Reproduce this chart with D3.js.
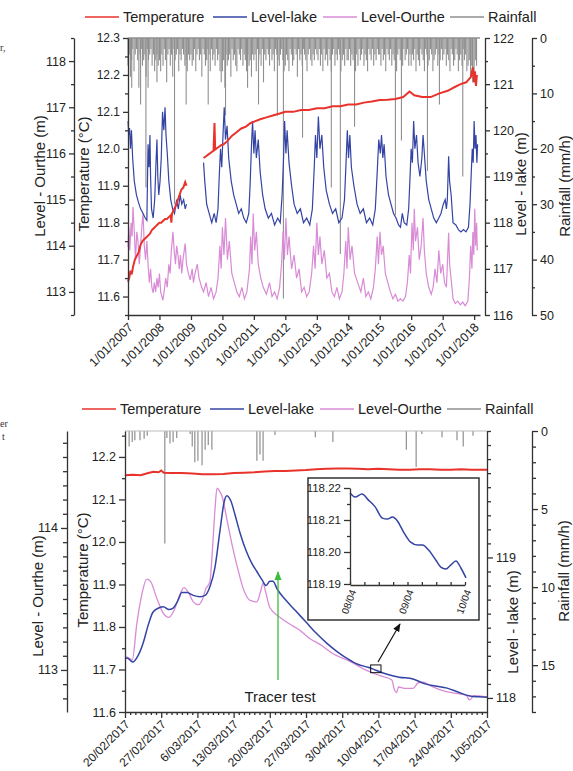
<!DOCTYPE html>
<html><head><meta charset="utf-8">
<script src="https://cdn.jsdelivr.net/npm/d3@7"></script>
<style>body{margin:0;background:#fff}svg text{font-family:"Liberation Sans",Arial,sans-serif}</style>
</head><body><svg id="c" width="573" height="771"></svg>
<script>
// ---------------- DATA (top chart, decimal years) ----------------
const legendItems = ["Temperature","Level-lake","Level-Ourthe","Rainfall"];
const topYears = [2007,2008,2009,2010,2011,2012,2013,2014,2015,2016,2017,2018];
const tempTopA = [[2007.00,11.64],[2007.04,11.65],[2007.08,11.67],[2007.12,11.66],[2007.16,11.68],[2007.22,11.70],[2007.28,11.71],[2007.34,11.72],[2007.40,11.74],[2007.46,11.75],[2007.52,11.755],[2007.58,11.76],[2007.64,11.765],[2007.70,11.77],[2007.76,11.78],[2007.82,11.785],[2007.88,11.79],[2007.94,11.795],[2008.00,11.80],[2008.06,11.80],[2008.12,11.805],[2008.18,11.81],[2008.24,11.81],[2008.30,11.815],[2008.36,11.82],[2008.38,11.80],[2008.40,11.825],[2008.46,11.835],[2008.52,11.845],[2008.58,11.86],[2008.64,11.875],[2008.70,11.89],[2008.76,11.895],[2008.82,11.91],[2008.86,11.90]];
const tempTopB = [[2009.40,11.975],[2009.48,11.98],[2009.56,11.985],[2009.64,11.99],[2009.72,11.995],[2009.75,12.07],[2009.77,11.998],[2009.88,12.005],[2009.96,12.01],[2010.04,12.012],[2010.15,12.02],[2010.30,12.035],[2010.45,12.045],[2010.60,12.055],[2010.75,12.06],[2010.90,12.07],[2011.05,12.075],[2011.20,12.08],[2011.40,12.085],[2011.60,12.09],[2011.80,12.095],[2012.00,12.10],[2012.25,12.10],[2012.50,12.105],[2012.75,12.105],[2013.00,12.11],[2013.25,12.11],[2013.50,12.115],[2013.75,12.115],[2014.00,12.12],[2014.25,12.12],[2014.50,12.125],[2014.75,12.128],[2015.00,12.132],[2015.25,12.133],[2015.50,12.135],[2015.75,12.14],[2015.95,12.155],[2016.10,12.145],[2016.35,12.14],[2016.62,12.14],[2016.90,12.15],[2017.16,12.157],[2017.40,12.168],[2017.57,12.175],[2017.75,12.18],[2017.90,12.195],[2017.96,12.22],[2018.00,12.18],[2018.03,12.21],[2018.06,12.17],[2018.09,12.20]];
const lakeTopA = [[2007.00,120.2],[2007.03,119.9],[2007.05,120.05],[2007.08,119.6],[2007.11,120.0],[2007.15,119.4],[2007.20,118.9],[2007.27,118.6],[2007.33,118.45],[2007.40,118.3],[2007.48,118.2],[2007.55,118.1],[2007.60,118.05],[2007.62,118.9],[2007.64,119.7],[2007.67,119.2],[2007.70,119.9],[2007.72,119.0],[2007.75,118.3],[2007.80,118.1],[2007.85,118.5],[2007.89,119.3],[2007.92,119.8],[2007.95,119.0],[2007.98,118.6],[2008.02,118.9],[2008.06,119.4],[2008.10,120.4],[2008.14,120.0],[2008.18,120.5],[2008.21,119.9],[2008.25,119.5],[2008.30,118.9],[2008.36,118.5],[2008.42,118.3],[2008.48,118.2],[2008.55,118.5],[2008.60,118.3],[2008.66,118.6],[2008.71,118.4],[2008.77,118.5],[2008.82,118.3],[2008.86,118.4]];
const lakeTopB = [[2009.40,119.3],[2009.44,118.9],[2009.50,118.4],[2009.58,118.2],[2009.66,118.0],[2009.74,118.2],[2009.80,118.0],[2009.86,118.3],[2009.90,119.0],[2009.94,119.6],[2009.98,119.2],[2010.02,119.9],[2010.06,120.5],[2010.10,119.8],[2010.15,120.1],[2010.20,119.4],[2010.28,118.9],[2010.36,118.6],[2010.44,118.4],[2010.52,118.2],[2010.60,118.3],[2010.68,118.1],[2010.76,118.0],[2010.84,118.2],[2010.88,118.8],[2010.92,119.6],[2010.96,120.2],[2011.00,119.5],[2011.04,120.0],[2011.08,119.4],[2011.14,119.8],[2011.20,119.1],[2011.28,118.6],[2011.36,118.3],[2011.46,118.1],[2011.56,118.2],[2011.66,117.95],[2011.76,118.1],[2011.84,118.0],[2011.90,118.6],[2011.94,119.3],[2011.98,120.2],[2012.02,119.5],[2012.06,120.0],[2012.12,119.3],[2012.20,118.8],[2012.28,118.4],[2012.38,118.2],[2012.48,118.3],[2012.58,118.0],[2012.68,118.1],[2012.78,117.95],[2012.86,118.3],[2012.92,119.2],[2012.96,119.9],[2013.00,119.4],[2013.05,120.3],[2013.10,119.6],[2013.16,119.9],[2013.22,119.2],[2013.30,118.7],[2013.40,118.4],[2013.50,118.2],[2013.60,118.3],[2013.70,118.0],[2013.80,118.1],[2013.88,118.5],[2013.93,119.3],[2013.97,120.0],[2014.01,119.4],[2014.05,119.9],[2014.10,119.2],[2014.18,118.8],[2014.28,118.4],[2014.38,118.2],[2014.48,118.3],[2014.58,118.0],[2014.68,118.1],[2014.78,117.95],[2014.86,118.3],[2014.92,119.1],[2014.97,119.8],[2015.02,119.5],[2015.06,119.9],[2015.10,119.4],[2015.14,119.7],[2015.20,119.0],[2015.28,118.6],[2015.36,118.4],[2015.44,118.2],[2015.52,118.1],[2015.60,117.95],[2015.66,117.9],[2015.72,118.2],[2015.78,118.0],[2015.86,117.95],[2015.92,118.3],[2015.96,118.9],[2016.00,119.6],[2016.04,119.3],[2016.08,120.2],[2016.12,119.6],[2016.17,119.9],[2016.22,119.3],[2016.28,119.0],[2016.34,119.4],[2016.38,119.9],[2016.42,119.5],[2016.48,118.9],[2016.56,118.5],[2016.64,118.3],[2016.72,118.1],[2016.80,118.0],[2016.88,118.1],[2016.95,118.2],[2017.02,118.4],[2017.08,118.5],[2017.12,118.3],[2017.15,118.5],[2017.19,119.44],[2017.22,118.9],[2017.27,118.6],[2017.33,118.0],[2017.42,117.95],[2017.50,117.85],[2017.58,117.8],[2017.66,117.85],[2017.74,117.8],[2017.82,117.9],[2017.87,118.4],[2017.91,119.1],[2017.94,119.6],[2017.97,119.3],[2018.00,120.2],[2018.03,119.6],[2018.06,119.9],[2018.09,119.3],[2018.11,119.7]];
const ourtheTop = [[2007.00,113.97],[2007.03,114.4],[2007.06,113.9],[2007.10,114.5],[2007.13,114.2],[2007.16,114.84],[2007.20,114.3],[2007.24,113.7],[2007.28,114.3],[2007.32,114.1],[2007.36,113.6],[2007.40,114.0],[2007.44,114.4],[2007.48,114.7],[2007.52,114.0],[2007.56,113.7],[2007.60,114.1],[2007.64,113.6],[2007.68,113.2],[2007.72,113.5],[2007.76,113.1],[2007.80,112.98],[2007.84,113.2],[2007.88,113.0],[2007.92,113.3],[2007.96,113.1],[2008.00,113.4],[2008.04,113.0],[2008.08,112.9],[2008.11,112.82],[2008.15,113.0],[2008.20,113.3],[2008.25,113.1],[2008.30,113.6],[2008.34,113.4],[2008.38,113.9],[2008.43,114.3],[2008.47,113.9],[2008.51,113.6],[2008.55,114.0],[2008.59,113.8],[2008.63,113.5],[2008.67,113.8],[2008.71,113.4],[2008.75,113.7],[2008.79,113.9],[2008.82,114.05],[2008.86,113.6],[2008.92,113.4],[2008.98,113.26],[2009.04,113.5],[2009.08,113.2],[2009.13,113.4],[2009.20,113.6],[2009.26,113.3],[2009.34,113.1],[2009.40,113.0],[2009.48,113.2],[2009.56,112.9],[2009.64,113.1],[2009.72,112.85],[2009.80,113.0],[2009.86,113.3],[2009.92,114.0],[2009.96,113.5],[2010.00,114.4],[2010.05,113.8],[2010.10,114.6],[2010.16,113.7],[2010.22,114.1],[2010.30,113.4],[2010.38,113.2],[2010.46,113.0],[2010.54,112.9],[2010.62,113.1],[2010.70,112.85],[2010.78,113.0],[2010.86,113.5],[2010.90,114.2],[2010.94,113.6],[2010.98,114.7],[2011.03,113.9],[2011.08,114.3],[2011.14,113.6],[2011.22,113.3],[2011.30,113.1],[2011.40,112.95],[2011.50,113.2],[2011.58,112.9],[2011.66,113.0],[2011.74,112.85],[2011.82,113.1],[2011.88,113.6],[2011.93,114.3],[2011.97,113.7],[2012.02,114.6],[2012.07,113.8],[2012.12,114.2],[2012.20,113.5],[2012.28,113.8],[2012.36,113.3],[2012.44,113.5],[2012.52,113.0],[2012.60,113.1],[2012.68,112.9],[2012.76,113.0],[2012.84,113.4],[2012.90,114.0],[2012.95,113.5],[2013.00,114.5],[2013.05,113.8],[2013.10,114.2],[2013.16,113.6],[2013.24,113.9],[2013.32,113.3],[2013.40,113.4],[2013.48,113.0],[2013.56,112.9],[2013.64,113.1],[2013.72,112.85],[2013.80,113.0],[2013.86,113.4],[2013.92,114.1],[2013.96,113.5],[2014.00,114.4],[2014.06,113.7],[2014.12,114.0],[2014.20,113.4],[2014.30,113.2],[2014.40,113.0],[2014.48,113.3],[2014.56,112.9],[2014.64,113.0],[2014.72,112.85],[2014.80,113.1],[2014.86,113.5],[2014.92,114.2],[2014.96,113.6],[2015.01,114.3],[2015.06,113.8],[2015.11,114.0],[2015.18,113.4],[2015.26,113.2],[2015.34,113.0],[2015.42,112.85],[2015.50,112.95],[2015.58,112.8],[2015.66,112.85],[2015.74,112.8],[2015.82,112.9],[2015.88,113.2],[2015.94,113.8],[2015.98,113.4],[2016.03,114.5],[2016.07,113.9],[2016.10,114.8],[2016.14,114.1],[2016.20,114.4],[2016.26,113.7],[2016.32,114.0],[2016.38,114.6],[2016.42,113.9],[2016.48,113.4],[2016.56,113.1],[2016.64,112.95],[2016.70,113.1],[2016.76,113.5],[2016.82,113.2],[2016.88,113.9],[2016.94,113.4],[2017.00,113.6],[2017.06,113.2],[2017.12,113.1],[2017.15,113.6],[2017.19,114.28],[2017.22,113.6],[2017.28,113.2],[2017.33,112.85],[2017.40,112.75],[2017.48,112.8],[2017.56,112.72],[2017.64,112.78],[2017.72,112.7],[2017.80,112.8],[2017.85,113.3],[2017.89,114.0],[2017.93,113.5],[2017.96,114.3],[2017.99,113.8],[2018.02,114.8],[2018.05,114.0],[2018.08,114.5],[2018.10,113.9]];
// biweekly maximum rainfall (mm/h), 26 values per year starting 2007
const rainTopBand = [
 [5,3,7,4,2,6,3,2,4,9,3,2,5,4,3,7,2,4,3,2,5,3,6,4,3,5],
 [4,6,3,5,2,4,8,3,2,5,3,7,2,4,3,2,6,3,4,2,3,5,4,6,3,4],
 [3,5,4,2,6,3,2,4,3,7,2,3,5,4,2,3,6,2,4,3,5,2,4,3,6,8],
 [6,4,9,3,5,4,3,7,2,4,3,5,6,2,3,4,2,5,3,4,6,3,5,4,7,3],
 [4,3,6,2,4,3,5,2,8,3,4,2,3,5,2,4,3,6,2,3,4,5,3,2,4,6],
 [5,3,4,6,2,3,5,4,2,3,7,2,4,3,5,2,3,4,6,3,2,4,5,3,4,2],
 [3,4,2,5,3,6,2,4,3,5,2,4,6,3,2,5,3,4,2,3,6,4,3,5,2,4],
 [4,2,5,3,4,2,6,3,5,2,4,3,2,5,3,4,6,2,3,4,2,5,3,4,2,3],
 [3,5,2,4,3,6,2,3,4,2,5,3,4,2,6,3,2,4,3,5,2,4,3,2,5,3],
 [5,3,4,2,6,3,4,5,2,3,4,6,2,3,5,4,2,3,6,4,3,2,5,3,4,2],
 [4,3,2,5,3,4,6,2,3,5,4,2,3,6,4,3,5,2,4,3,6,5,4,7,5,6],
 [6,4,5]
];
const rainTopSpikes = [[2007.12,9],[2007.40,12],[2007.57,27],[2007.64,9],[2007.92,8],[2008.48,30],[2008.85,12],[2009.55,12],[2010.10,14],[2010.80,9],[2011.15,12],[2011.75,14],[2011.94,47],[2012.55,18],[2013.46,27],[2013.75,39],[2014.20,16],[2015.50,32],[2015.69,18.5],[2016.52,24],[2016.90,12],[2017.64,25],[2017.95,8]];

// ---------------- DATA (bottom chart, days from 20/02/2017) ----------------
const bottomTickDays = [0,7,14,21,28,35,42,49,56,63,70];
const tempBot = [[0,12.157],[1.5,12.158],[3,12.157],[4.5,12.162],[5.5,12.165],[6.5,12.164],[7,12.168],[7.5,12.163],[9,12.162],[11,12.162],[13,12.161],[15,12.159],[17,12.159],[19,12.160],[21,12.162],[23,12.163],[25,12.164],[27,12.166],[29,12.167],[31,12.167],[33,12.168],[35,12.169],[37,12.171],[39,12.172],[41,12.173],[43,12.173],[45,12.172],[47,12.171],[49,12.172],[51,12.171],[53,12.170],[55,12.170],[57,12.171],[59,12.171],[61,12.170],[63,12.170],[65,12.171],[67,12.170],[70,12.170]];
const lakeBot = [[0,118.28],[0.4,118.284],[1.5,118.256],[2.5,118.30],[3.5,118.39],[4.5,118.52],[5.4,118.61],[6.5,118.64],[7.4,118.65],[8.5,118.63],[9.3,118.64],[10.2,118.69],[11,118.75],[12,118.75],[13.2,118.73],[14.5,118.72],[15.5,118.73],[16.5,118.80],[17.4,118.93],[18.4,119.20],[19.2,119.40],[19.7,119.44],[20.5,119.40],[21.3,119.30],[22.2,119.18],[23.5,119.04],[24.5,118.96],[25.5,118.90],[26.5,118.84],[27.3,118.80],[28.0,118.83],[28.6,118.83],[29.5,118.77],[31,118.70],[33,118.62],[35,118.54],[37,118.46],[39,118.39],[41,118.33],[43,118.28],[45,118.24],[47,118.218],[48,118.205],[49,118.19],[51,118.165],[53,118.148],[55.7,118.135],[58,118.10],[60,118.085],[62.3,118.07],[64.5,118.04],[66.7,118.014],[68.5,118.008],[70,118.005]];
const ourtheBot = [[0,113.09],[0.4,113.09],[1.4,113.07],[2.3,113.33],[3.3,113.54],[4.2,113.64],[5,113.62],[6,113.52],[7.4,113.40],[8.5,113.37],[9.5,113.42],[10.5,113.52],[11.4,113.58],[12.2,113.55],[13.2,113.48],[14.2,113.46],[15,113.50],[15.6,113.57],[16.4,113.62],[17.0,113.90],[17.4,114.13],[17.8,114.28],[18.3,114.26],[18.8,114.22],[19.7,114.06],[20.9,113.85],[21.9,113.70],[22.8,113.58],[24.2,113.49],[25.5,113.48],[26.2,113.55],[26.7,113.61],[27.2,113.55],[28,113.44],[30,113.37],[32,113.32],[33.8,113.28],[35.8,113.22],[37.7,113.18],[40,113.12],[43.5,113.06],[46,113.01],[49.3,112.96],[51.6,112.93],[52.1,112.86],[52.5,112.84],[52.9,112.88],[54,112.87],[55.7,112.87],[56.7,112.91],[57.7,112.915],[59,112.89],[62.3,112.845],[65,112.83],[66,112.82],[66.6,112.79],[67,112.80],[67.4,112.82],[70,112.81]];
const rainBot = [[0.8,1.0],[1.4,0.7],[1.9,0.6],[2.9,0.6],[3.7,0.5],[4.3,0.3],[7.7,7.2],[8.1,0.45],[8.7,0.8],[9.3,0.7],[10,0.45],[12.6,0.2],[13,1.0],[13.5,2.0],[14.1,1.9],[14.9,2.2],[15.5,1.2],[16.1,0.9],[16.8,1.2],[25.5,1.9],[26.1,1.5],[26.7,1.9],[29,0.25],[36.8,0.4],[40.2,0.7],[54.4,1.2],[56.3,2.3],[57.4,0.2],[61.3,0.4],[64.2,0.6],[65.4,1.0],[67.3,0.3]];
const insetHours = [0,2.1,5,7.6,10.5,13.5,15.6,17.7,19.8,22.3,25.3,28.2,30.3,32.8,35.8,37.9,40,42,44.2,46.3,48.4];
const insetLevel = [118.2185,118.2172,118.2181,118.2163,118.2141,118.2106,118.2103,118.2109,118.2097,118.2063,118.2031,118.2022,118.2022,118.2006,118.1975,118.1953,118.1947,118.1959,118.1972,118.1950,118.1919];

// ---------------- helpers ----------------
const svg = d3.select('#c');
const C = {temp:'#e8322b', lake:'#3444a4', ourthe:'#d98bd6', rain:'#8f8f8f', axis:'#333', text:'#222'};
function dy(y){const yr=Math.floor(y+1e-9);return new Date(yr,0,1+(y-yr)*365.25);}
const base = new Date(2017,1,20);
function dd(d){return new Date(base.getTime()+d*86400000);}
function styleAxis(g,fs){g.selectAll('path,line').attr('stroke',C.axis).attr('stroke-width',1.3);g.selectAll('text').attr('fill',C.text).style('font-size',(fs||12)+'px').style('font-family','"Liberation Sans",Arial,sans-serif');}
function vAxis(x,scale,side,major,minor,fmt,ml,mn,fs){
  const mk=()=>side==='left'?d3.axisLeft(scale):d3.axisRight(scale);
  const g=svg.append('g').attr('transform',`translate(${x},0)`).call(mk().tickValues(major).tickFormat(fmt).tickSize(ml).tickSizeOuter(0).tickPadding(3));
  styleAxis(g,fs);
  if(minor){const gm=svg.append('g').attr('transform',`translate(${x},0)`).call(mk().tickValues(minor).tickFormat('').tickSize(mn).tickSizeOuter(0));gm.select('.domain').remove();styleAxis(gm);}
  return g;
}
function title(txt,x,y,fs){svg.append('text').attr('transform',`translate(${x},${y}) rotate(-90)`).attr('text-anchor','middle').attr('fill',C.text).style('font-size',(fs||15)+'px').text(txt);}
function legend(y,dx){
  const xs=[[82,120],[210,248],[320,358],[447,485]];
  const cols=[C.temp,C.lake,C.ourthe,C.rain];
  legendItems.forEach((t,i)=>{
    svg.append('line').attr('x1',xs[i][0]+dx).attr('x2',xs[i][0]+dx+34).attr('y1',y).attr('y2',y).attr('stroke',cols[i]).attr('stroke-width',1.5);
    svg.append('text').attr('x',xs[i][1]+dx).attr('y',y+5).attr('fill',C.text).style('font-size','14.5px').text(t);
  });
}
function range(a,b,s){const r=[];for(let v=a;v<=b+1e-9;v+=s)r.push(+v.toFixed(4));return r;}
function rotLabels(g){g.selectAll('text').attr('y',0).attr('x',0).attr('dy','0.35em').attr('text-anchor','end').attr('transform','translate(2,10) rotate(-45)');}

// caption fragments at the left page edge
svg.append('text').attr('x',0).attr('y',51).style('font-family','"Liberation Serif",serif').style('font-size','10px').attr('fill','#333').text('r,');
svg.append('text').attr('x',0).attr('y',427).style('font-family','"Liberation Serif",serif').style('font-size','10px').attr('fill','#333').text('er');
svg.append('text').attr('x',2).attr('y',440).style('font-family','"Liberation Serif",serif').style('font-size','10px').attr('fill','#333').text('t');

// ================= TOP CHART =================
const T = {l:128,r:480,t:38,b:315};
const xT = d3.scaleTime().domain([new Date(2007,0,1),new Date(2018,2,10)]).range([T.l,T.r]);
const yTempT = d3.scaleLinear().domain([11.55,12.3]).range([T.b,T.t]);
const yOurT = d3.scaleLinear().domain([112.5,118.5]).range([T.b,T.t]);
const yLakeT = d3.scaleLinear().domain([116,122]).range([T.b,T.t]);
const yRainT = d3.scaleLinear().domain([0,50]).range([T.t,T.b]);
legend(17,3);
const rainTopAll=[];
rainTopBand.forEach((arr,i)=>arr.forEach((v,j)=>rainTopAll.push([2007+i+j/26,v])));
rainTopSpikes.forEach(p=>rainTopAll.push(p));
svg.append('g').selectAll('line').data(rainTopAll).join('line')
 .attr('x1',d=>xT(dy(d[0]))).attr('x2',d=>xT(dy(d[0]))).attr('y1',yRainT(0)).attr('y2',d=>yRainT(d[1]))
 .attr('stroke',C.rain).attr('stroke-width',1.1);
svg.append('line').attr('x1',T.l).attr('x2',T.r).attr('y1',T.t).attr('y2',T.t).attr('stroke',C.rain).attr('stroke-width',1.5);
const lineT=(ys)=>d3.line().x(d=>xT(dy(d[0]))).y(d=>ys(d[1]));
svg.append('path').datum(ourtheTop).attr('d',lineT(yOurT)).attr('fill','none').attr('stroke',C.ourthe).attr('stroke-width',1.2);
[lakeTopA,lakeTopB].forEach(s=>svg.append('path').datum(s).attr('d',lineT(yLakeT)).attr('fill','none').attr('stroke',C.lake).attr('stroke-width',1.2));
[tempTopA,tempTopB].forEach(s=>svg.append('path').datum(s).attr('d',lineT(yTempT)).attr('fill','none').attr('stroke',C.temp).attr('stroke-width',2));
vAxis(T.l,yTempT,'left',range(11.6,12.3,0.1),range(11.55,12.25,0.1),d3.format('.1f'),5,3,12);
vAxis(74,yOurT,'left',range(113,118,1),range(112.5,118.5,1),d3.format('d'),5,3,12.5);
vAxis(485,yLakeT,'right',range(116,122,1),range(116.5,121.5,1),d3.format('d'),5,3,12.5);
vAxis(532,yRainT,'right',range(0,50,10),range(5,45,10),d3.format('d'),5,3,12.5);
const gxT=svg.append('g').attr('transform',`translate(0,${T.b})`).call(d3.axisBottom(xT).tickValues(topYears.map(y=>new Date(y,0,1))).tickFormat(d=>'1/01/'+d.getFullYear()).tickSize(5).tickSizeOuter(0));
styleAxis(gxT,12.5);
rotLabels(gxT);
title('Level - Ourthe (m)',45,176);
title('Temperature (°C)',89,174);
title('Level - lake (m)',526,184);
title('Rainfall (mm/h)',570,186);

// ================= BOTTOM CHART =================
const B = {l:125,r:487,t:431,b:712};
const xB = d3.scaleTime().domain([dd(0),dd(70)]).range([B.l,B.r]);
const yTempB = d3.scaleLinear().domain([11.6,12.261]).range([B.b,B.t]);
const yOurB = d3.scaleLinear().domain([112.704,114.683]).range([B.b,B.t]);
const yLakeB = d3.scaleLinear().domain([117.9,119.9]).range([B.b,B.t]);
const yRainB = d3.scaleLinear().domain([0,18]).range([B.t,B.b]);
legend(409,0);
svg.append('g').selectAll('line').data(rainBot).join('line')
 .attr('x1',d=>xB(dd(d[0]))).attr('x2',d=>xB(dd(d[0]))).attr('y1',yRainB(0)).attr('y2',d=>yRainB(d[1]))
 .attr('stroke',C.rain).attr('stroke-width',1.2);
svg.append('line').attr('x1',B.l).attr('x2',B.r).attr('y1',B.t).attr('y2',B.t).attr('stroke','#bbb').attr('stroke-width',1);
const lineB=(ys)=>d3.line().curve(d3.curveMonotoneX).x(d=>xB(dd(d[0]))).y(d=>ys(d[1]));
svg.append('path').datum(ourtheBot).attr('d',lineB(yOurB)).attr('fill','none').attr('stroke',C.ourthe).attr('stroke-width',1.3);
svg.append('path').datum(lakeBot).attr('d',lineB(yLakeB)).attr('fill','none').attr('stroke',C.lake).attr('stroke-width',1.5);
svg.append('path').datum(tempBot).attr('d',d3.line().x(d=>xB(dd(d[0]))).y(d=>yTempB(d[1]))).attr('fill','none').attr('stroke',C.temp).attr('stroke-width',2);
vAxis(B.l,yTempB,'left',range(11.6,12.2,0.1),range(11.65,12.25,0.1),d3.format('.1f'),6,3,12.5);
vAxis(67,yOurB,'left',[113,114],range(112.8,114.6,0.1).filter(v=>Math.abs(v-113)>0.01&&Math.abs(v-114)>0.01),d3.format('d'),6,4,12.5);
vAxis(487,yLakeB,'right',[118,119],range(118.0,119.9,0.1).filter(v=>Math.abs(v-118)>0.01&&Math.abs(v-119)>0.01),d3.format('d'),6,4,12.5);
vAxis(532,yRainB,'right',[0,5,10,15],range(1,18,1).filter(v=>v%5),d3.format('d'),6,4,12.5);
const gxB=svg.append('g').attr('transform',`translate(0,${B.b})`).call(d3.axisBottom(xB).tickValues(bottomTickDays.map(dd)).tickFormat(d3.timeFormat('%-d/%m/%Y')).tickSize(6).tickSizeOuter(0));
styleAxis(gxB,12);
rotLabels(gxB);
const gxBm=svg.append('g').attr('transform',`translate(0,${B.b})`).call(d3.axisBottom(xB).tickValues(range(0,70,1).filter(v=>v%7).map(dd)).tickFormat('').tickSize(3).tickSizeOuter(0));
gxBm.select('.domain').remove();styleAxis(gxBm);
title('Level - Ourthe (m)',43,596);
title('Temperature (°C)',88,570);
title('Level - lake (m)',518,622);
title('Rainfall (mm/h)',569,571);
// tracer test arrow
const defs=svg.append('defs');
defs.append('marker').attr('id','ag').attr('viewBox','0 0 10 10').attr('refX',9).attr('refY',5).attr('markerWidth',7).attr('markerHeight',7).attr('orient','auto').append('path').attr('d','M0,1L10,5L0,9z').attr('fill','#3dbd3d');
defs.append('marker').attr('id','ak').attr('viewBox','0 0 10 10').attr('refX',9).attr('refY',5).attr('markerWidth',7).attr('markerHeight',7).attr('orient','auto').append('path').attr('d','M0,1L10,5L0,9z').attr('fill','#111');
svg.append('line').attr('x1',278).attr('x2',278).attr('y1',680).attr('y2',572).attr('stroke','#3dbd3d').attr('stroke-width',1.3).attr('marker-end','url(#ag)');
svg.append('text').attr('x',280).attr('y',702).attr('text-anchor','middle').attr('fill',C.text).style('font-size','15px').text('Tracer test');
// zoom box and arrow
svg.append('rect').attr('x',xB(dd(47.5))).attr('y',yLakeB(118.235)).attr('width',xB(dd(49.5))-xB(dd(47.5))).attr('height',yLakeB(118.18)-yLakeB(118.235)).attr('fill','none').attr('stroke','#111').attr('stroke-width',1);
svg.append('line').attr('x1',378).attr('y1',662).attr('x2',400).attr('y2',624).attr('stroke','#111').attr('stroke-width',1.2).attr('marker-end','url(#ak)');
// inset
svg.append('rect').attr('x',308).attr('y',478).attr('width',171).attr('height',142).attr('fill','#fff').attr('stroke','#333').attr('stroke-width',1.5);
const xI = d3.scaleLinear().domain([0,48]).range([350,465]);
const yI = d3.scaleLinear().domain([118.19,118.22]).range([584,488]);
svg.append('path').datum(insetHours.map((h,i)=>[h,insetLevel[i]])).attr('d',d3.line().curve(d3.curveMonotoneX).x(d=>xI(d[0])).y(d=>yI(d[1]))).attr('fill','none').attr('stroke',C.lake).attr('stroke-width',1.5);
const giy=svg.append('g').attr('transform','translate(350,0)').call(d3.axisLeft(yI).tickValues([118.19,118.20,118.21,118.22]).tickFormat(d3.format('.2f')).tickSize(6).tickSizeOuter(0).tickPadding(3));
styleAxis(giy,11.5);
const giym=svg.append('g').attr('transform','translate(350,0)').call(d3.axisLeft(yI).tickValues([118.195,118.205,118.215]).tickFormat('').tickSize(3).tickSizeOuter(0));giym.select('.domain').remove();styleAxis(giym);
const gix=svg.append('g').attr('transform','translate(0,585)').call(d3.axisTop(xI).tickValues(range(0,48,6)).tickFormat('').tickSize(3).tickSizeOuter(0));
styleAxis(gix);
[[0,'08/04'],[24,'09/04'],[48,'10/04']].forEach(p=>{
  svg.append('text').attr('transform',`translate(${xI(p[0])+3},${590}) rotate(-70)`).attr('text-anchor','end').attr('dy','0.35em').attr('fill',C.text).style('font-size','10px').text(p[1]);
});
</script></body></html>
